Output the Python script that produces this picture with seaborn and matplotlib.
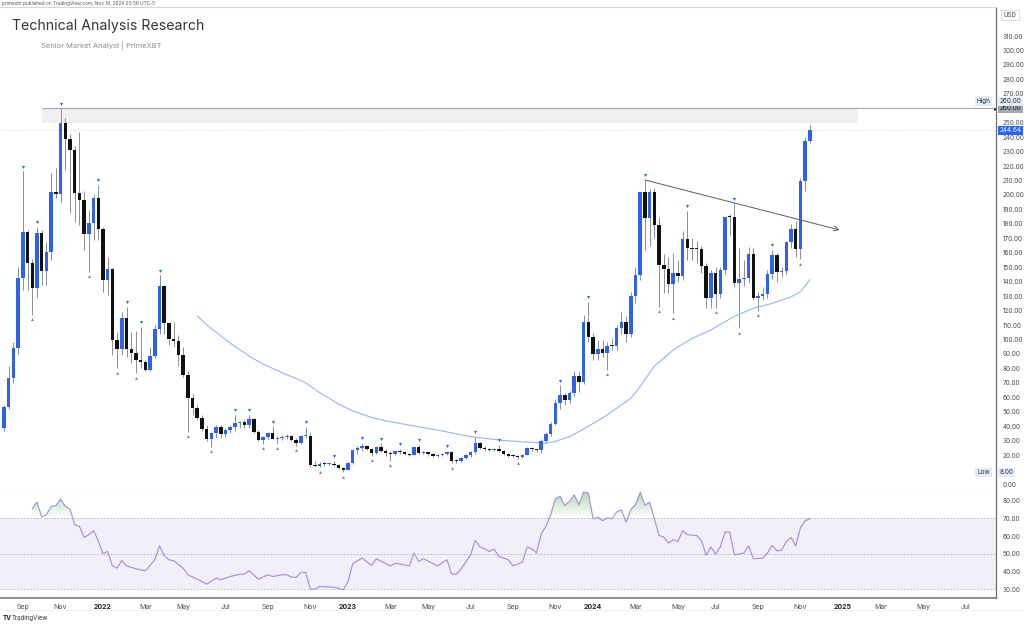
import numpy as np
import pandas as pd
import matplotlib
matplotlib.use("Agg")
import matplotlib.pyplot as plt
import matplotlib.transforms as mtransforms
from matplotlib.patches import Rectangle
from matplotlib.path import Path
from matplotlib.colors import LinearSegmentedColormap
import seaborn as sns

# ---- weekly candles (first bar = week of 2021-08-09) ----
first_week = pd.Timestamp("2021-08-09")

opens = [38.5, 53.5, 73.4, 94.3, 142.8, 174.6, 152.7, 135.4, 173.5, 147.4,
         160.3, 202.3, 201, 249.6, 238.8, 231.1, 201.2, 196.5, 172.8, 180.4,
         197.7, 176.3, 141.2, 148.8, 99.7, 93.2, 115.1, 93.2, 90.9, 85.8,
         84.4, 78.9, 88.6, 107, 137, 111.2, 100.1, 99.2, 89.3, 75.4,
         59.3, 52.4, 45.5, 37.9, 31, 35.1, 39.7, 34.4, 37.4, 39.2,
         42, 42.7, 41, 44.8, 36.2, 30.4, 32.3, 35.5, 31.4, 32,
         32.5, 33, 30.4, 28.6, 33.1, 33.5, 13.1, 12.7, 14, 13.5,
         13.6, 13, 10.8, 10, 14.7, 23.2, 24.7, 26.3, 24, 21.7,
         25.4, 22.5, 21.2, 21, 22.6, 22.2, 20.9, 20.3, 25.4, 21.6,
         22, 20.8, 19.5, 20, 20.7, 22, 16.1, 16, 17.8, 19.9,
         22.4, 28.2, 25.2, 24, 23.2, 24.5, 22.8, 20.8, 19.6, 19.1,
         18.6, 20.3, 24.7, 24, 23.2, 29.8, 34.5, 41.8, 56.3, 61.6,
         58, 63.2, 74.7, 70.8, 112.3, 101.9, 89.7, 93.4, 90.9, 95.7,
         95.3, 107.7, 111.9, 103.6, 130.1, 144.6, 201.9, 183.9, 202.3, 179.2,
         151.6, 148.6, 138.4, 145.8, 144, 169.6, 163, 162.8, 162.4, 150.9,
         128.5, 146.2, 131.3, 148, 185.4, 184.8, 138.9, 141.9, 142.3, 159.2,
         128.5, 130.1, 131.3, 145.3, 158.5, 147, 147.6, 167.3, 176.5, 162.6,
         209.9, 237.6]

closes = [53.5, 73.4, 94.3, 142.8, 174.6, 152.7, 135.4, 173.5, 147.4, 160.3,
          202.3, 201, 249.6, 238.8, 231.1, 201.2, 196.5, 172.8, 180.4, 197.7,
          176.3, 141.2, 148.8, 99.7, 93.2, 115.1, 93.2, 90.9, 85.8, 84.4,
          78.9, 88.6, 107, 137, 111.2, 100.1, 99.2, 89.3, 75.4, 59.3,
          52.4, 45.5, 37.9, 31, 35.1, 39.7, 34.4, 37.4, 39.2, 42,
          42.7, 41, 44.8, 36.2, 30.4, 32.3, 35.5, 31.4, 32, 32.5,
          33, 30.4, 28.6, 33.1, 33.5, 13.1, 12.7, 14, 13.5, 13.6,
          13, 10.8, 10, 14.7, 23.2, 24.7, 26.3, 24, 21.7, 25.4,
          22.5, 21.2, 21, 22.6, 22.2, 20.9, 20.3, 25.4, 21.6, 22,
          20.8, 19.5, 20, 20.7, 22, 16.1, 16, 17.8, 19.9, 22.4,
          28.2, 25.2, 24, 23.2, 24.5, 22.8, 20.8, 19.6, 19.1, 18.6,
          20.3, 24.7, 24, 23.2, 29.8, 34.5, 41.8, 56.3, 61.6, 58,
          63.2, 74.7, 70.8, 112.3, 101.9, 89.7, 93.4, 90.9, 95.7, 95.3,
          107.7, 111.9, 103.6, 130.1, 144.6, 201.9, 183.9, 202.3, 179.2, 151.6,
          148.6, 138.4, 145.8, 144, 169.6, 163, 162.8, 162.4, 150.9, 128.5,
          146.2, 131.3, 148, 184.6, 184.8, 138.9, 141.9, 142.3, 159.2, 128.5,
          130.1, 131.3, 145.3, 158.5, 147, 147.6, 167.3, 176.5, 162.6, 209.9,
          237.6, 244.64]

highs = [55, 82, 98.5, 150, 216.6, 176, 156, 178, 176, 167.7,
         215, 218.7, 260, 253, 242, 234, 243.6, 203, 189.6, 201,
         207, 178, 157.3, 149.5, 105, 119.2, 122.7, 105, 106, 108.9,
         86, 95, 110, 144.6, 138, 112, 112, 103, 95, 78,
         62, 55, 48, 41, 36, 41, 40.5, 39, 41, 47.8,
         43.5, 45, 48, 45.5, 37.5, 33, 36, 40.1, 33.5, 34,
         34.5, 34, 31.5, 33.8, 39.7, 36, 16, 15, 15, 14.5,
         16.1, 13.5, 12, 15, 24.5, 26, 28.5, 27, 25, 26,
         28.2, 24, 22.5, 23, 24.5, 22.8, 21.8, 26, 27, 23,
         22.3, 21.5, 21, 21.3, 23, 22.5, 17, 18.5, 20.5, 23,
         32.7, 29, 26, 25, 25, 27, 23.5, 21.5, 20.5, 20,
         20.8, 25.5, 25.5, 24.5, 31, 36, 43, 59, 68.5, 63,
         64.5, 78, 78.5, 117, 126.2, 104.5, 100, 100, 98, 101,
         110, 119, 116, 133, 150, 196, 210.4, 204, 205, 185,
         159, 157, 160, 155, 175, 189, 170, 168, 165, 153,
         148, 150, 150, 185, 187, 194.2, 163, 155, 164, 163,
         133, 136, 148, 162, 160, 150.5, 168, 180, 182, 212,
         240, 248.4]

lows = [37, 52, 70, 90, 134, 134, 117, 128.7, 137.7, 138,
        155, 198, 195, 217, 187.5, 181.5, 179, 162, 147, 168.9,
        168.9, 133, 130.8, 89.3, 80, 89, 88, 84, 76.6, 80,
        78, 78, 87, 104, 104, 96, 95, 82, 74, 36,
        48, 44, 37, 30, 25.8, 32, 31.5, 32.5, 35, 37,
        38.5, 39, 39, 35, 29.5, 28, 31, 31, 28, 30.5,
        31, 29.5, 26.5, 27.5, 31.5, 12, 12, 11.5, 12.8, 13,
        12.8, 10.5, 8, 9.5, 14, 21, 22.5, 23.5, 19.5, 21,
        22, 19.5, 16, 19.8, 20.5, 20, 19.5, 20, 20.5, 20.5,
        19.5, 18.5, 19, 19.5, 19.8, 14.5, 14.8, 15.5, 17, 19,
        21, 24, 23, 22.5, 22.7, 22, 19.8, 19, 18.5, 17.5,
        18.2, 19.8, 22.5, 22, 21.5, 28.5, 33.5, 40.5, 52, 55,
        56, 61, 64, 69, 98, 86, 86, 88, 78.9, 93,
        93, 104, 98, 102, 125, 141, 162, 165, 170, 122.7,
        132, 132, 118, 140, 141, 155, 155, 153, 146, 122,
        121.5, 122, 129, 145, 172, 136, 107.7, 137, 139, 127,
        120, 127, 129, 142, 140, 143, 145, 163, 157, 155.5,
        203, 236]

# swing markers (bar numbers, 1 = first bar)
pivot_high_bars = [5, 8, 13, 21, 27, 30, 34, 50, 53, 58, 65, 71, 77, 81, 85,
                   89, 95, 101, 106, 119, 125, 137, 146, 156, 164]
pivot_low_bars = [7, 19, 25, 29, 40, 45, 56, 59, 63, 68, 73, 79, 83, 96, 110,
                  129, 140, 143, 152, 157, 161, 170]

# moving average (bar number, value)
ma_bars = [42, 44, 46, 49, 53, 56, 60, 63, 65, 68, 72, 75, 79, 81, 86, 93,
           100, 107, 114, 116, 118, 121, 124, 129, 134, 136, 139, 143, 147,
           151, 153, 156, 160, 164, 168, 170, 171, 172]
ma_values = [116.3, 110.2, 105, 97.5, 88.5, 83, 77, 73, 70, 63.2, 55.4,
             50.6, 46.1, 44.4, 41.3, 37.3, 32.8, 30.1, 28.6, 28.3, 29.5, 32.8,
             38.0, 47.8, 59.3, 67.5, 81.5, 92.7, 100.8, 106.6, 110.5, 116,
             121.6, 125, 129.5, 133, 137.2, 141.4]

# RSI (bar number, value)
rsi_bars = [7, 8, 9, 10, 11, 12, 13, 14, 15, 16, 17, 18, 19, 20, 21, 22, 23,
            24, 25, 26, 27, 29, 31, 33, 34, 35, 36, 37, 39, 40, 42, 44, 46, 47,
            49, 51, 52, 53, 55, 57, 58, 60, 61, 62, 63, 64, 65, 66, 67, 68, 71,
            73, 74, 75, 77, 79, 80, 83, 84, 87, 88, 89, 90, 93, 95, 96, 97, 98,
            100, 101, 102, 103, 104, 105, 106, 108, 109, 111, 112, 113, 114,
            115, 116, 117, 118, 119, 120, 121, 122, 123, 124, 125, 126, 127,
            128, 129, 130, 131, 132, 133, 134, 135, 136, 137, 138, 140, 141,
            142, 143, 144, 145, 146, 148, 149, 150, 151, 152, 153, 154, 155,
            156, 158, 159, 160, 162, 163, 164, 165, 166, 167, 168, 169, 170,
            171, 172]
rsi_values = [75.4, 79.1, 70.7, 72, 76.7, 77, 80.8, 76.7, 75.2, 66.3, 65.4,
              59.2, 60.7, 63, 57.3, 50, 51.3, 43.2, 41.9, 46.2, 43.2, 41.5,
              40.4, 46.6, 54.5, 48.9, 46.6, 46.1, 41.9, 38.2, 35.7, 32.9, 36.3,
              35.4, 37.2, 38.5, 38.5, 40.4, 35.7, 38.2, 37.2, 38.2, 38.2, 36.9,
              36.7, 39.5, 39.5, 30.1, 30.1, 31.6, 31.2, 29.7, 34.4, 44.4, 47.6,
              43.4, 47.2, 43.1, 44.7, 43.2, 50.4, 45.7, 47.2, 43.2, 46.6, 38.5,
              38.5, 41.5, 49.4, 57.5, 53.9, 52.8, 51.3, 52.6, 48.5, 46.6, 43.2,
              45.3, 53.8, 52.8, 50.4, 61.3, 65.4, 72, 81, 82.3, 77.2, 79.5,
              83.2, 77.6, 84.7, 84.2, 69.7, 70.5, 68.6, 70.1, 69.7, 73.5, 74.8,
              67.8, 74.8, 77.6, 84.7, 77.2, 79.1, 60.3, 59.4, 56, 57.9, 56.9,
              63, 60.7, 60.3, 57.3, 49.1, 53.8, 49.8, 53.8, 62.2, 62.2, 49.4,
              50.4, 54.5, 47.2, 47.6, 50.4, 54.7, 51.7, 51.9, 56.9, 59.2, 54.5,
              64.5, 68.6, 69.7]

# drawings
zone_dates = ["2021-10-05", "2025-01-28"]
zone_prices = [249.8, 260.0]
trend_dates = ["2024-03-18", "2025-01-01"]
trend_prices = [210.4, 175.8]
last_price = 244.64
high_price = 260.00
low_price = 8.00
price_ticks = [0, 20, 30, 40, 50, 60, 70, 80, 90, 100, 110, 120, 130, 140,
               150, 160, 170, 180, 190, 200, 210, 220, 230, 240, 250, 270,
               280, 290, 300, 310]
rsi_ticks = [30, 40, 50, 60, 70, 80]


def week_pos(d):
    return (pd.Timestamp(d) - first_week).days / 7.0


sns.set_style("white")
plt.rcParams['font.family'] = ['Inter', 'DejaVu Sans']

W, H = 1024, 626
fig = plt.figure(figsize=(W / 100, H / 100), dpi=100)
fig.patch.set_facecolor("white")


def box(l, t, r, b):
    return [l / W, 1 - b / H, (r - l) / W, (b - t) / H]


ax = fig.add_axes(box(0, 7, 996, 490))
ax_rsi = fig.add_axes(box(0, 490, 996, 598), sharex=ax)

o = np.array(opens)
c = np.array(closes)
h = np.array(highs)
lo = np.array(lows)
x = np.arange(len(c))
up = c >= o

# candles
ax.vlines(x, lo, h, color="#8c8e96", lw=0.7, zorder=2)
body_bot = np.minimum(o, c)
body_h = np.maximum(np.abs(c - o), 0.7)
ax.bar(x, body_h, bottom=body_bot, width=0.74,
       color=np.where(up, "#2e62ea", "#111111"), linewidth=0, zorder=3)

# swing markers
hi_idx = np.array(pivot_high_bars) - 1
lo_idx = np.array(pivot_low_bars) - 1
tr_up = mtransforms.offset_copy(ax.transData, fig=fig, x=0, y=4.5, units="dots")
tr_dn = mtransforms.offset_copy(ax.transData, fig=fig, x=0, y=-4.5, units="dots")
ax.scatter(hi_idx, h[hi_idx], marker="v", s=5, color="#2962ff",
           linewidths=0, transform=tr_up, zorder=4)
ax.scatter(lo_idx, lo[lo_idx], marker="^", s=5, color="#8c8e96",
           linewidths=0, transform=tr_dn, zorder=4)

# moving average
sns.lineplot(x=np.array(ma_bars) - 1, y=ma_values, ax=ax, color="#9ab8f7",
             lw=0.85, zorder=2.5)

# zone + 260 line
zx0, zx1 = week_pos(zone_dates[0]), week_pos(zone_dates[1])
ax.add_patch(Rectangle((zx0, zone_prices[0]), zx1 - zx0,
                       zone_prices[1] - zone_prices[0],
                       facecolor="#efeff2", edgecolor="none", zorder=0.5))
xmin, xmax = -0.85, 210.5
ax.hlines(high_price, zx0, xmax, color="#a3a6ae", lw=0.8, zorder=1)
ax.axhline(last_price, color="#a6d8d2", lw=0.6, ls=(0, (1, 2)), zorder=1)

# trend line with arrow
tx0, tx1 = week_pos(trend_dates[0]), week_pos(trend_dates[1])
ax.annotate("", xy=(tx1, trend_prices[1]), xytext=(tx0, trend_prices[0]),
            arrowprops=dict(arrowstyle="->,head_length=0.35,head_width=0.18",
                            color="#5e5e5e", lw=0.7, shrinkA=0, shrinkB=0),
            zorder=4)

ax.set_xlim(xmin, xmax)
ax.set_ylim(-4.15, 330.1)

# price axis
ax.yaxis.tick_right()
ax.set_yticks(price_ticks)
ax.set_yticklabels([f"{v:.2f}" for v in price_ticks])
ax.tick_params(axis="y", length=0, pad=5, labelsize=4.6, labelcolor="#4a4a4a")
ax.tick_params(axis="x", bottom=False, labelbottom=False)
ax.set_xlabel("")
ax.set_ylabel("")
ax.spines["left"].set_visible(False)
ax.spines["top"].set_color("#d6d6d6")
ax.spines["top"].set_linewidth(0.8)
ax.spines["right"].set_color("#6f6f6f")
ax.spines["right"].set_linewidth(0.9)
ax.spines["bottom"].set_color("#e4e4e4")
ax.spines["bottom"].set_linewidth(0.8)

# price labels on the scale
lab_kw = dict(xycoords=("axes fraction", "data"), fontsize=4.6,
              va="center", annotation_clip=False, zorder=6)
ax.annotate(f"{last_price:.2f}", (1.0035, last_price), color="white",
            bbox=dict(boxstyle="square,pad=0.25", fc="#2962ff", ec="none"),
            **lab_kw)
ax.annotate(f"{high_price:.2f}", (1.0035, high_price), color="#222222",
            bbox=dict(boxstyle="square,pad=0.25", fc="#a7a9b0", ec="none"),
            **lab_kw)
ax.annotate("\u25B8", (0.9975, high_price), color="#222222", fontsize=4,
            va="center", xycoords=("axes fraction", "data"),
            annotation_clip=False, zorder=7)
ax.annotate(f"{high_price:.2f}", (1.0035, high_price), xytext=(0, 5),
            textcoords="offset points", color="#333333",
            bbox=dict(boxstyle="square,pad=0.25", fc="#e3ecfb", ec="none"),
            **lab_kw)
ax.annotate("High", (0.9875, high_price), xytext=(0, 5),
            textcoords="offset points", color="#333333", ha="center",
            bbox=dict(boxstyle="square,pad=0.3", fc="#e3ecfb", ec="none"),
            **lab_kw)
ax.annotate(f"{low_price:.2f}", (1.0035, low_price), color="#333333",
            bbox=dict(boxstyle="square,pad=0.25", fc="#e3ecfb", ec="none"),
            **lab_kw)
ax.annotate("Low", (0.9875, low_price), color="#333333", ha="center",
            bbox=dict(boxstyle="square,pad=0.3", fc="#e3ecfb", ec="none"),
            **lab_kw)

# ---- RSI pane ----
rx = np.array(rsi_bars) - 1
rv = np.array(rsi_values)
ax_rsi.axhspan(30, 70, color="#7e57c2", alpha=0.09, lw=0, zorder=0)
for lvl in (30, 50, 70):
    ax_rsi.axhline(lvl, color="#b3b3bc", lw=0.6, ls=(0, (2, 2)), zorder=1)

fill = ax_rsi.fill_between(rx, rv, 70, where=rv > 70, interpolate=True,
                           facecolor="none", lw=0)
paths = fill.get_paths()
if paths:
    grad = np.linspace(0, 1, 100).reshape(-1, 1)
    gcmap = LinearSegmentedColormap.from_list(
        "g", [(0.3, 0.69, 0.31, 0.0), (0.3, 0.69, 0.31, 0.5)])
    im = ax_rsi.imshow(grad, extent=[xmin, xmax, 70, 86], origin="lower",
                       aspect="auto", cmap=gcmap, zorder=1.5)
    im.set_clip_path(Path.make_compound_path(*paths), ax_rsi.transData)

sns.lineplot(x=rx, y=rv, ax=ax_rsi, color="#a590e2", lw=0.85, zorder=3)
ax_rsi.set_xlim(xmin, xmax)
ax_rsi.set_ylim(25.1, 85.9)
ax_rsi.yaxis.tick_right()
ax_rsi.set_yticks(rsi_ticks)
ax_rsi.set_yticklabels([f"{v:.2f}" for v in rsi_ticks])
ax_rsi.tick_params(axis="y", length=0, pad=5, labelsize=4.6,
                   labelcolor="#4a4a4a")
ax_rsi.set_xlabel("")
ax_rsi.set_ylabel("")

# month ticks at the first weekly bar of each month
months = pd.date_range("2021-09-01", "2025-07-01", freq="2MS")
tick_pos, tick_lab = [], []
for m in months:
    first_bar = m + pd.Timedelta(days=(7 - m.weekday()) % 7)
    tick_pos.append(week_pos(first_bar))
    tick_lab.append(str(m.year) if m.month == 1 else m.strftime("%b"))
ax_rsi.set_xticks(tick_pos)
ax_rsi.set_xticklabels(tick_lab)
ax_rsi.tick_params(axis="x", length=0, pad=4, labelsize=5,
                   labelcolor="#4a4a4a")
for t in ax_rsi.get_xticklabels():
    if t.get_text().isdigit():
        t.set_fontweight("bold")
        t.set_color("#222222")
ax_rsi.spines["left"].set_visible(False)
ax_rsi.spines["top"].set_visible(False)
ax_rsi.spines["right"].set_color("#6f6f6f")
ax_rsi.spines["right"].set_linewidth(0.9)
ax_rsi.spines["bottom"].set_color("#707070")
ax_rsi.spines["bottom"].set_linewidth(1.1)


# ---- texts around the chart ----
def ftext(px, py, s, **kw):
    fig.text(px / W, 1 - py / H, s, **kw)


ftext(2, 3, "primexbt published on TradingView.com, Nov 19, 2024 03:56 UTC-5",
      fontsize=3.4, color="#555555", va="center")
ftext(12, 26, "Technical Analysis Research", fontsize=10.2, color="#363636",
      va="center")
ftext(41, 46, "Senior Market Analyst | PrimeXBT", fontsize=5.4,
      color="#8d8d8d", va="center")
ftext(1010, 15, "USD", fontsize=4.4, color="#444444", va="center", ha="center",
      bbox=dict(boxstyle="square,pad=0.35", fc="white", ec="#d0d0d0", lw=0.5))
ftext(3, 618, "TV", fontsize=4.6, fontweight="bold", color="#222222",
      va="center")
ftext(12, 618, "TradingView", fontsize=4.4, color="#333333", va="center")
fig.add_artist(plt.Line2D([0, 1], [1 - 610 / H, 1 - 610 / H],
                          color="#ececec", lw=0.6))

plt.savefig("out.png", dpi=100, facecolor="white")
